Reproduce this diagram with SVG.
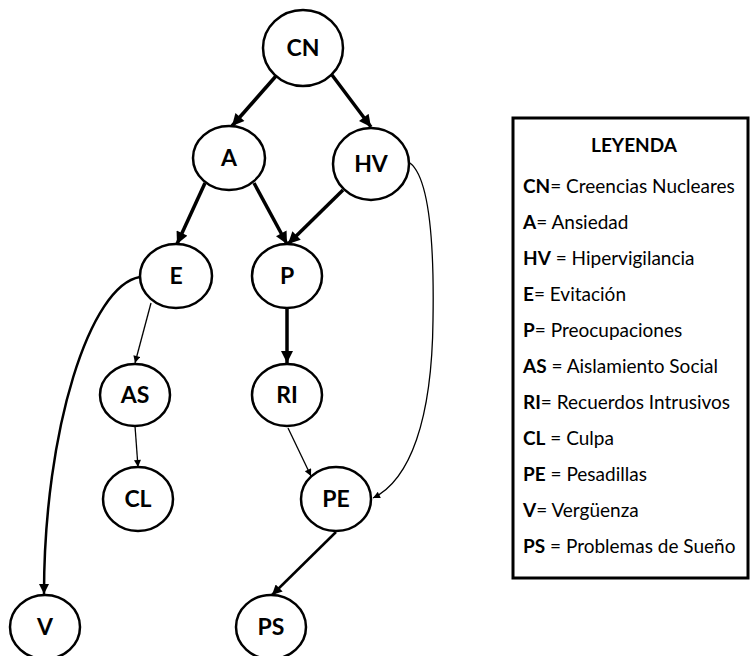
<svg xmlns="http://www.w3.org/2000/svg" width="750" height="656" viewBox="0 0 750 656">
<defs>
<style>
.node ellipse{fill:#fff;stroke:#000;stroke-width:2.5}
.node text{font-family:Lato,"Open Sans","Liberation Sans",sans-serif;font-weight:bold;font-size:23px;text-anchor:middle;fill:#000}
.e{fill:none;stroke:#000}
.thick{stroke-width:3.5}
.med{stroke-width:2.5}
.thin{stroke-width:1.3}
.leg{font-family:Lato,"Open Sans","Liberation Sans",sans-serif;font-size:19px;fill:#000}
.leg tspan.b{font-weight:bold}
</style>
<marker id="ah" viewBox="0 0 10 10" refX="10" refY="5" markerWidth="13" markerHeight="12" markerUnits="userSpaceOnUse" orient="auto"><path d="M0,0 L10,5 L0,10 z" fill="#000"/></marker>
<marker id="am" viewBox="0 0 10 10" refX="10" refY="5" markerWidth="11" markerHeight="10" markerUnits="userSpaceOnUse" orient="auto"><path d="M0,0 L10,5 L0,10 z" fill="#000"/></marker>
<marker id="as" viewBox="0 0 10 10" refX="10" refY="5" markerWidth="9" markerHeight="7" markerUnits="userSpaceOnUse" orient="auto"><path d="M0,0 L10,5 L0,10 z" fill="#000"/></marker>
</defs>
<rect width="750" height="656" fill="#fff"/>
<g id="connectors">
<line class="e thick" x1="276" y1="76" x2="232" y2="126" marker-end="url(#ah)"/>
<line class="e thick" x1="332" y1="75" x2="371" y2="127" marker-end="url(#ah)"/>
<line class="e thick" x1="205" y1="183" x2="177" y2="244" marker-end="url(#ah)"/>
<line class="e thick" x1="254" y1="183" x2="287" y2="244" marker-end="url(#ah)"/>
<line class="e thick" x1="343" y1="190" x2="288" y2="244" marker-end="url(#ah)"/>
<line class="e thick" x1="287" y1="308" x2="287" y2="363" marker-end="url(#ah)"/>
<line class="e thin" x1="151" y1="303" x2="135" y2="363" marker-end="url(#as)"/>
<line class="e thin" x1="135" y1="426" x2="138" y2="467" marker-end="url(#as)"/>
<line class="e thin" x1="288" y1="428" x2="311" y2="476" marker-end="url(#as)"/>
<line class="e med" x1="336" y1="532" x2="272" y2="595" marker-end="url(#am)"/>
<path class="e med" d="M140,277 C90,285 44,430 44,594" marker-end="url(#am)"/>
<path class="e thin" d="M410,163 C432,180 434,260 433,320 C432,420 410,480 373,498" marker-end="url(#as)"/>
</g>
<g id="node-CN" class="node"><ellipse cx="303" cy="48" rx="40" ry="38"/><text x="303" y="56">CN</text></g>
<g id="node-A" class="node"><ellipse cx="229" cy="158" rx="36" ry="32"/><text x="229" y="166">A</text></g>
<g id="node-HV" class="node"><ellipse cx="371" cy="164" rx="38" ry="36"/><text x="371" y="172">HV</text></g>
<g id="node-E" class="node"><ellipse cx="176" cy="276" rx="36" ry="32"/><text x="176" y="284">E</text></g>
<g id="node-P" class="node"><ellipse cx="287" cy="276" rx="35" ry="32"/><text x="287" y="284">P</text></g>
<g id="node-AS" class="node"><ellipse cx="135" cy="395" rx="35" ry="31"/><text x="135" y="403">AS</text></g>
<g id="node-RI" class="node"><ellipse cx="287" cy="395" rx="35" ry="31"/><text x="287" y="403">RI</text></g>
<g id="node-CL" class="node"><ellipse cx="138" cy="499" rx="35" ry="32"/><text x="138" y="507">CL</text></g>
<g id="node-PE" class="node"><ellipse cx="336" cy="499" rx="35" ry="32"/><text x="336" y="507">PE</text></g>
<g id="node-V" class="node"><ellipse cx="45" cy="627" rx="35" ry="32"/><text x="45" y="635">V</text></g>
<g id="node-PS" class="node"><ellipse cx="271" cy="627" rx="35" ry="32"/><text x="271" y="635">PS</text></g>
<g id="legend">
<rect x="513" y="118" width="235" height="460" fill="#fff" stroke="#000" stroke-width="3"/>
<text class="leg" x="634" y="152" text-anchor="middle" font-weight="bold" font-size="18px">LEYENDA</text>
<text class="leg" x="523" y="193"><tspan class="b">CN</tspan>= Creencias Nucleares</text>
<text class="leg" x="523" y="229"><tspan class="b">A</tspan>= Ansiedad</text>
<text class="leg" x="523" y="265"><tspan class="b">HV</tspan> = Hipervigilancia</text>
<text class="leg" x="523" y="301"><tspan class="b">E</tspan>= Evitación</text>
<text class="leg" x="523" y="337"><tspan class="b">P</tspan>= Preocupaciones</text>
<text class="leg" x="523" y="373"><tspan class="b">AS</tspan> = Aislamiento Social</text>
<text class="leg" x="523" y="409"><tspan class="b">RI</tspan>= Recuerdos Intrusivos</text>
<text class="leg" x="523" y="445"><tspan class="b">CL</tspan> = Culpa</text>
<text class="leg" x="523" y="481"><tspan class="b">PE</tspan> = Pesadillas</text>
<text class="leg" x="523" y="517"><tspan class="b">V</tspan>= Vergüenza</text>
<text class="leg" x="523" y="553"><tspan class="b">PS</tspan> = Problemas de Sueño</text>
</g>
</svg>
